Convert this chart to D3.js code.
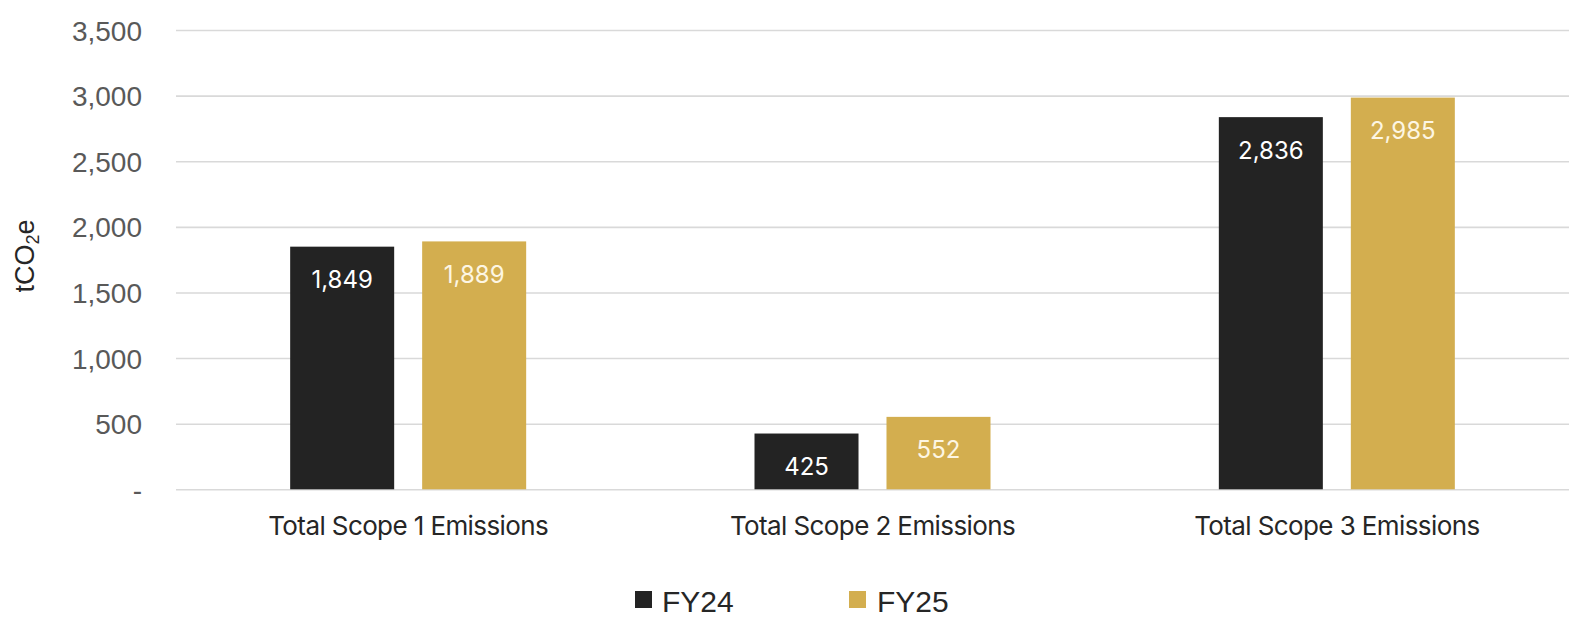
<!DOCTYPE html>
<html>
<head>
<meta charset="utf-8">
<script src="https://cdn.jsdelivr.net/npm/d3@7"></script>
<style>
  html, body { margin: 0; padding: 0; background: #ffffff; }
  svg { display: block; }
</style>
</head>
<body>
<svg id="chart" width="1575" height="634"></svg>
<script>
// ---- data ----
const categories = ["Total Scope 1 Emissions", "Total Scope 2 Emissions", "Total Scope 3 Emissions"];
const seriesNames = ["FY24", "FY25"];
const fy24 = [1849, 425, 2836];
const fy25 = [1889, 552, 2985];
const yTicks = [0, 500, 1000, 1500, 2000, 2500, 3000, 3500];
const yTitle = "tCO₂e";

// ---- styles ----
const colors = { FY24: "#232323", FY25: "#d3ae4f" };
const labelColors = { FY24: "#ffffff", FY25: "#fdf6e3" };

const svg = d3.select("#chart");
const W = 1575, H = 634;
const plot = { left: 176, right: 1569, top: 30, bottom: 489.3 };

const seriesValues = { FY24: fy24, FY25: fy25 };
const rows = categories.map((c, i) => ({
  category: c,
  values: seriesNames.map(s => ({ series: s, value: seriesValues[s][i] }))
}));

const x = d3.scaleBand().domain(categories).range([plot.left, plot.right]).paddingInner(0).paddingOuter(0);
const bw = x.bandwidth();
const xs = d3.scaleBand().domain(seriesNames).range([bw / 2 - 118, bw / 2 + 118]).paddingInner(0.212).paddingOuter(0);
const y = d3.scaleLinear().domain([0, 3500]).range([plot.bottom, plot.top]);

// gridlines + y tick labels
const yAxis = d3.axisLeft(y)
  .tickValues(yTicks)
  .tickSize(-(plot.right - plot.left))
  .tickPadding(34)
  .tickFormat(d => d === 0 ? "-" : d3.format(",")(d));

const gy = svg.append("g")
  .attr("transform", `translate(${plot.left},0)`)
  .call(yAxis);
gy.select(".domain").remove();
gy.selectAll(".tick line").attr("stroke", "#d9d9d9").attr("stroke-width", 1.6);
gy.selectAll(".tick text")
  .attr("fill", "#595959")
  .style("font-family", "'Liberation Sans', Arial, sans-serif")
  .style("font-size", "28px")
  .attr("dy", "0.36em");

// y title
const yt = svg.append("text")
  .attr("transform", `translate(34,256) rotate(-90)`)
  .attr("text-anchor", "middle")
  .attr("fill", "#262626")
  .style("font-family", "'Liberation Sans', Arial, sans-serif")
  .style("font-size", "27px");
yt.append("tspan").text("tCO");
yt.append("tspan").text("2").attr("dy", "0.25em").style("font-size", "18px");
yt.append("tspan").text("e").attr("dy", "-0.17em");

// bars
const groups = svg.append("g").selectAll("g")
  .data(rows)
  .join("g")
  .attr("transform", d => `translate(${x(d.category)},0)`);

groups.selectAll("rect")
  .data(d => d.values)
  .join("rect")
  .attr("x", d => xs(d.series))
  .attr("width", xs.bandwidth())
  .attr("y", d => y(d.value))
  .attr("height", d => y(0) - y(d.value))
  .attr("fill", d => colors[d.series]);

groups.selectAll("text.val")
  .data(d => d.values)
  .join("text")
  .attr("class", "val")
  .attr("x", d => xs(d.series) + xs.bandwidth() / 2)
  .attr("y", d => y(d.value) + 33)
  .attr("dy", "0.35em")
  .attr("text-anchor", "middle")
  .attr("fill", d => labelColors[d.series])
  .style("font-family", "Inter, 'Noto Sans', sans-serif")
  .style("font-size", "24px")
  .style("font-weight", 400)
  .text(d => d3.format(",")(d.value));

// category labels
const xAxis = d3.axisBottom(x).tickSize(0).tickPadding(0);
const gx = svg.append("g")
  .attr("transform", `translate(0,${plot.bottom})`)
  .call(xAxis);
gx.select(".domain").remove();
gx.selectAll(".tick text")
  .attr("y", 46)
  .attr("dy", 0)
  .attr("fill", "#262626")
  .style("font-family", "Inter, 'Noto Sans', sans-serif")
  .style("font-size", "26px")
  .style("letter-spacing", "-0.6px");

// legend
const legendItems = [
  { name: "FY24", sx: 635, tx: 662 },
  { name: "FY25", sx: 849, tx: 877 }
];
const lg = svg.append("g");
lg.selectAll("rect")
  .data(legendItems)
  .join("rect")
  .attr("x", d => d.sx)
  .attr("y", 591)
  .attr("width", 17)
  .attr("height", 17)
  .attr("fill", d => colors[d.name]);
lg.selectAll("text")
  .data(legendItems)
  .join("text")
  .attr("x", d => d.tx)
  .attr("y", 612)
  .attr("fill", "#262626")
  .style("font-family", "'Liberation Sans', Arial, sans-serif")
  .style("font-size", "30px")
  .text(d => d.name);
</script>
</body>
</html>
